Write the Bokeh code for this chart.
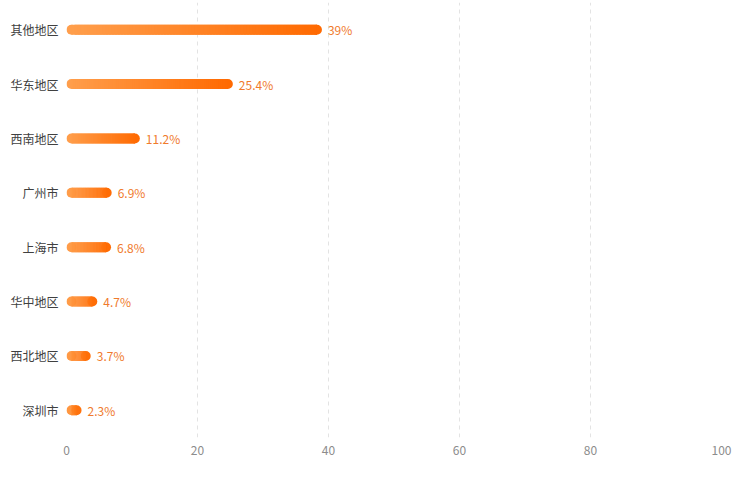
from bokeh.plotting import figure
from bokeh.models import Range1d, FixedTicker, ColumnDataSource
from bokeh.core.properties import value
from bokeh.embed import file_html
from bokeh.resources import INLINE

# ---- data ----
regions = ["其他地区", "华东地区", "西南地区", "广州市", "上海市", "华中地区", "西北地区", "深圳市"]
shares = [39, 25.4, 11.2, 6.9, 6.8, 4.7, 3.7, 2.3]
x_ticks = [0, 20, 40, 60, 80, 100]

FONT = "Noto Sans CJK SC"
C_START = (0xFF, 0x9F, 0x4D)
C_END = (0xFF, 0x69, 0x00)

W, H = 738, 465
ML, MR, MT, MB = 66, 17, 2, 28

n = len(regions)
ypos = [n - 1 - i for i in range(n)]  # top category at the top

p = figure(width=W, height=H, output_backend="svg", toolbar_location=None,
           x_range=Range1d(0, 100), y_range=Range1d(-0.5, n - 0.5),
           min_border_left=ML, min_border_right=MR, min_border_top=MT, min_border_bottom=MB)
p.outline_line_color = None
p.background_fill_color = "white"
p.border_fill_color = "white"

# px per data unit on x
px = (W - ML - MR) / 100.0
r_d = 5.0 / px  # cap radius in data units

def mix(t):
    t = max(0.0, min(1.0, t))
    c = [int(round(a + (b - a) * t)) for a, b in zip(C_START, C_END)]
    return "#%02x%02x%02x" % tuple(c)

x0s, x1s, ys, cols = [], [], [], []
cx, cy, cc = [], [], []
N = 80
for v, y in zip(shares, ypos):
    a, b = r_d, v - r_d
    step = (b - a) / N
    for k in range(N):
        s = a + k * step
        e = min(b, s + step * 2.0)
        x0s.append(s); x1s.append(e); ys.append(y)
        cols.append(mix((s + step / 2) / v))
    cx += [a, b]; cy += [y, y]; cc += [mix(r_d / v * 0.5), mix(1 - r_d / v * 0.5)]

p.scatter(x="x", y="y", size=10, fill_color="c", line_color=None,
          source=ColumnDataSource(dict(x=cx, y=cy, c=cc)))
p.segment(x0="x0", y0="y", x1="x1", y1="y", line_color="color", line_width=10,
          line_cap="butt", source=ColumnDataSource(dict(x0=x0s, x1=x1s, y=ys, color=cols)))

labels = [("%g" % v) + "%" for v in shares]
p.text(x=shares, y=ypos, text=labels, x_offset=6, text_baseline="middle", text_align="left",
       text_color="#f07a2c", text_font_size="12px", text_font=value(FONT))

# axes
p.xaxis.ticker = FixedTicker(ticks=x_ticks)
p.xaxis.axis_line_color = None
p.xaxis.major_tick_line_color = None
p.xaxis.minor_tick_line_color = None
p.xaxis.major_tick_out = 0
p.xaxis.major_label_standoff = 8
p.xaxis.major_label_text_color = "#8c8c8c"
p.xaxis.major_label_text_font_size = "12px"
p.xaxis.major_label_text_font = FONT

p.yaxis.ticker = FixedTicker(ticks=ypos)
p.yaxis.major_label_overrides = {y: r for y, r in zip(ypos, regions)}
p.yaxis.axis_line_color = None
p.yaxis.major_tick_line_color = None
p.yaxis.minor_tick_line_color = None
p.yaxis.major_tick_out = 0
p.yaxis.major_label_standoff = 8
p.yaxis.major_label_text_color = "#404040"
p.yaxis.major_label_text_font_size = "12px"
p.yaxis.major_label_text_font = FONT

p.ygrid.grid_line_color = None
p.xgrid.grid_line_color = "#e3e3e3"
p.xgrid.grid_line_dash = "4 4"
p.xgrid.grid_line_width = 1

open("out.html", "w").write(file_html(p, INLINE))
